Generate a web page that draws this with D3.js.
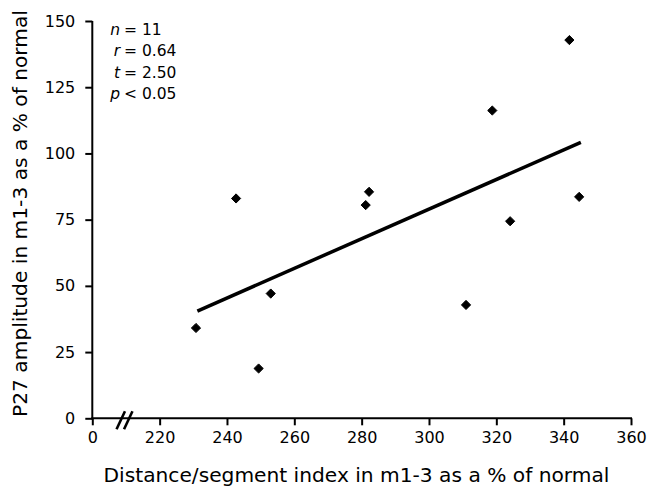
<!DOCTYPE html>
<html><head><meta charset="utf-8">
<script src="https://cdn.jsdelivr.net/npm/d3@7"></script>
<style>body{margin:0;background:#fff}svg{display:block}</style>
</head><body>
<script>
// Data
const distIndex = [230.8, 242.7, 249.4, 253.0, 281.2, 282.2, 311.0, 318.8, 324.1, 341.7, 344.6];
const p27Amp    = [34.1, 83.0, 18.8, 47.1, 80.5, 85.5, 42.8, 116.2, 74.4, 142.8, 83.6];
const fitX = [231.2, 345.1];
const fitY = [40.5, 104.2];
const xTicks = [200, 220, 240, 260, 280, 300, 320, 340, 360];
const xTickLabels = ["0", "220", "240", "260", "280", "300", "320", "340", "360"];
const yTicks = [0, 25, 50, 75, 100, 125, 150];
const stats = [["n", "= 11"], ["r", "= 0.64"], ["t", "= 2.50"], ["p", "< 0.05"]];
const xTitle = "Distance/segment index in m1-3 as a % of normal";
const yTitle = "P27 amplitude in m1-3 as a % of normal";

const W = 652, H = 489;
const font = "DejaVu Sans, sans-serif";
const svg = d3.select("body").append("svg").attr("width", W).attr("height", H);

const x = d3.scaleLinear().domain([200, 360]).range([92.3, 631]);
const y = d3.scaleLinear().domain([0, 150]).range([418.3, 21]);

// X axis
const xAxis = svg.append("g").attr("transform", `translate(0,${y(0)})`)
  .call(d3.axisBottom(x).tickValues(xTicks).tickFormat((d, i) => xTickLabels[i]).tickSize(7).tickPadding(4).tickSizeOuter(0));
// Y axis
const yAxis = svg.append("g").attr("transform", `translate(${x(200)},0)`)
  .call(d3.axisLeft(y).tickValues(yTicks).tickSize(7).tickPadding(10).tickSizeOuter(0));

[xAxis, yAxis].forEach(g => {
  g.select(".domain").attr("stroke", "#000").attr("stroke-width", 2);
  g.selectAll(".tick line").attr("stroke", "#000").attr("stroke-width", 2);
  g.selectAll(".tick text").attr("font-family", font).attr("font-size", 16).attr("fill", "#000");
});
yAxis.select(".domain").attr("d", `M0,${y(150)}V${y(0) + 1}`);
xAxis.select(".domain").attr("d", `M${x(200) - 1},0H${x(360) + 1}`);
xAxis.selectAll(".tick text").attr("dy", "0.85em");

// Axis break marks
const brk = svg.append("g").attr("stroke", "#000").attr("stroke-width", 2.6);
[0, 7.5].forEach(o => {
  brk.append("line")
    .attr("x1", x(207.2) + o).attr("y1", y(0) + 11)
    .attr("x2", x(209.7) + o).attr("y2", y(0) - 7);
});

// Fit line
svg.append("line")
  .attr("x1", x(fitX[0])).attr("y1", y(fitY[0]))
  .attr("x2", x(fitX[1])).attr("y2", y(fitY[1]))
  .attr("stroke", "#000").attr("stroke-width", 3.5);

// Points (diamonds)
const r = 4.6;
svg.append("g").selectAll("path").data(distIndex.map((d, i) => [d, p27Amp[i]]))
  .join("path")
  .attr("d", d => { const cx = x(d[0]), cy = y(d[1]); return `M${cx},${cy - r}L${cx + r},${cy}L${cx},${cy + r}L${cx - r},${cy}Z`; })
  .attr("fill", "#000").attr("stroke", "#000").attr("stroke-width", 1).attr("stroke-linejoin", "round");

// Stats text
const st = svg.append("g").attr("font-family", font).attr("font-size", 15.5).attr("fill", "#000");
stats.forEach((s, i) => {
  const t = st.append("text").attr("y", 35 + i * 21.3);
  t.append("tspan").attr("x", 120).attr("text-anchor", "end").attr("font-style", "italic").text(s[0]);
  t.append("tspan").attr("x", 124).attr("text-anchor", "start").text(s[1]);
});

// Axis titles
svg.append("text").attr("x", 356.5).attr("y", 482).attr("text-anchor", "middle")
  .attr("font-family", font).attr("font-size", 20.2).attr("fill", "#000").text(xTitle);
svg.append("text").attr("transform", "translate(27,213.5) rotate(-90)").attr("text-anchor", "middle")
  .attr("font-family", font).attr("font-size", 20.2).attr("fill", "#000").text(yTitle);
</script>
</body></html>
